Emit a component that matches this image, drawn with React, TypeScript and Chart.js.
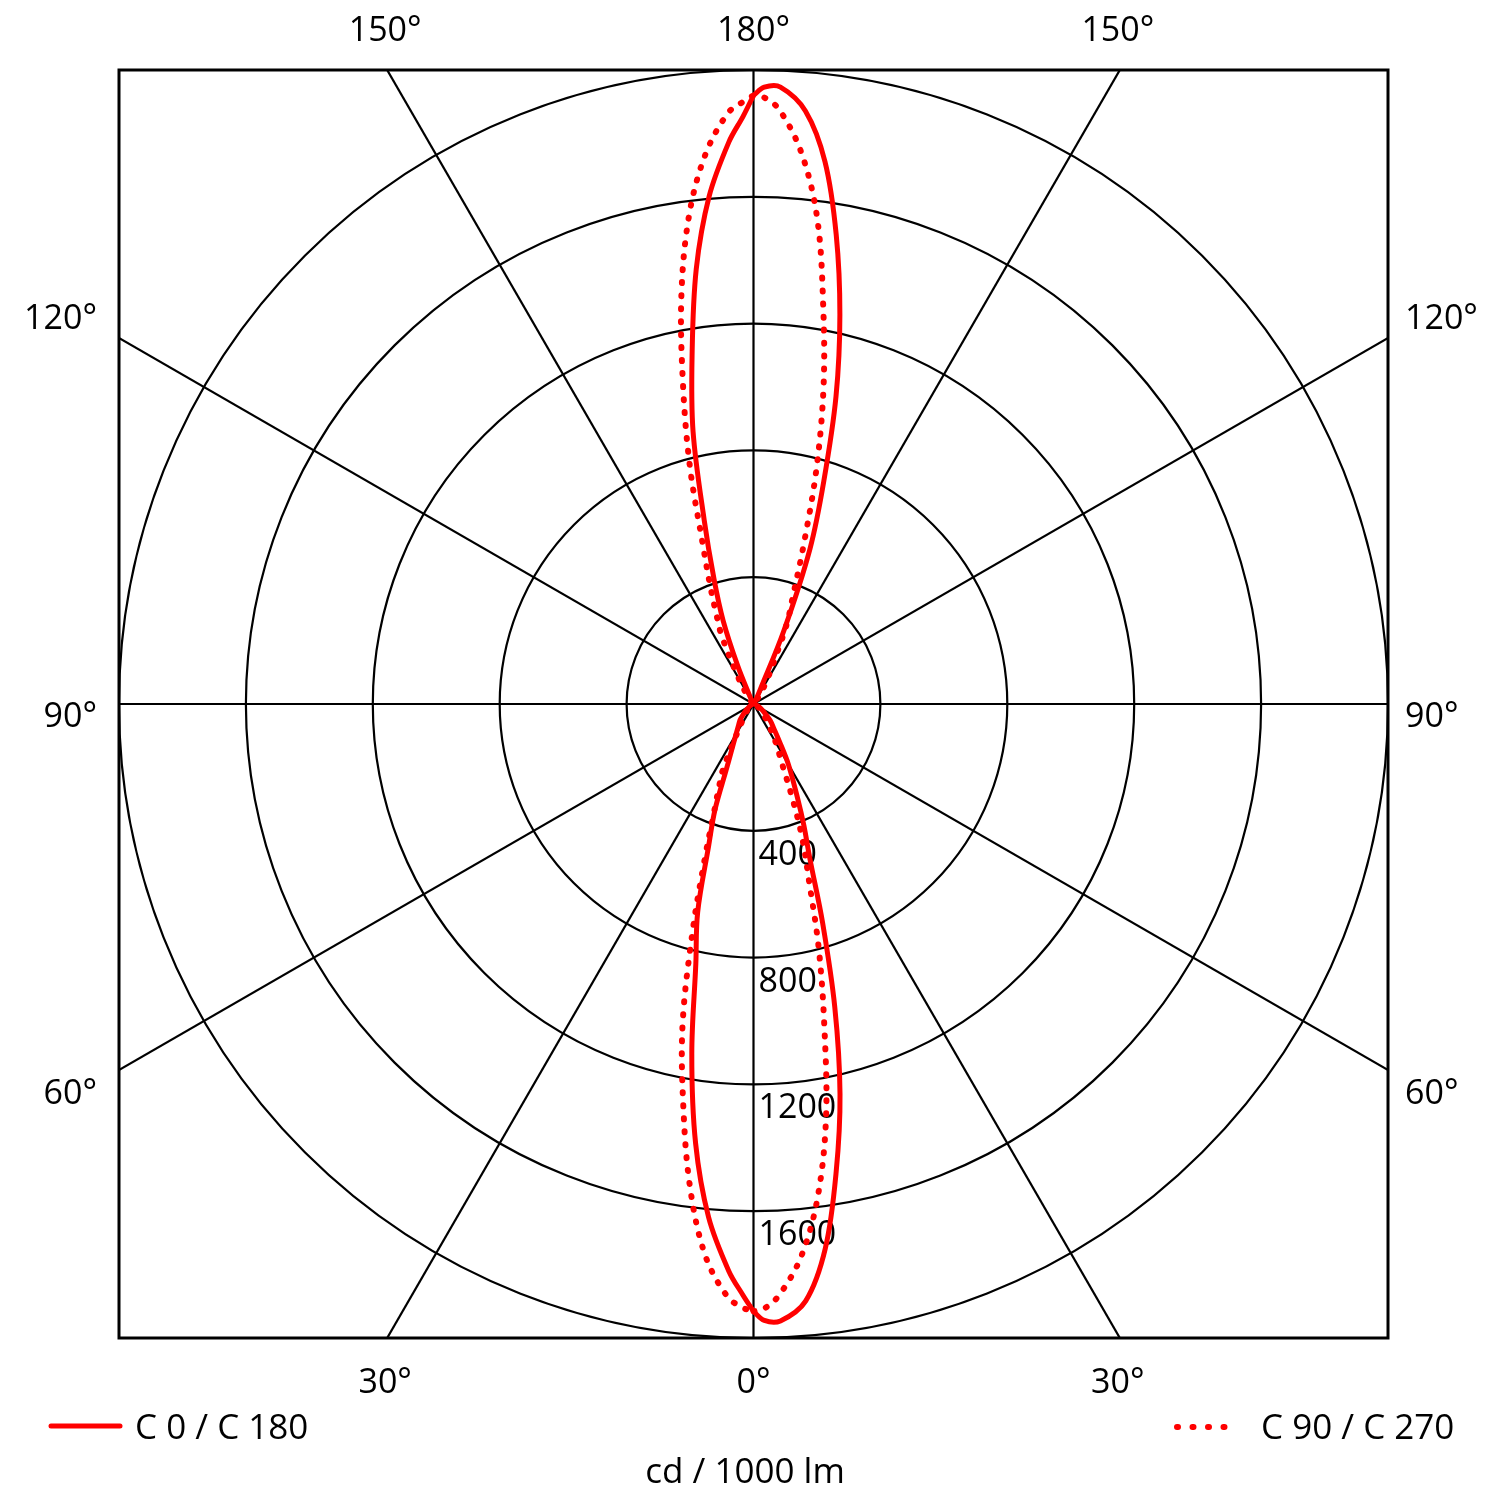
import { useEffect, useRef } from 'react';
import { Chart, registerables } from 'chart.js';

Chart.register(...registerables);

// gamma angles (0° = straight down, 180° = straight up)
const gammaDeg = [
  0, 1, 2.5, 5, 7.5, 10, 12.5, 15, 17.5, 20, 22.5, 25,
  30, 35, 40, 45, 50, 60, 70, 80, 90,
  100, 110, 120, 130, 140, 145, 150, 155,
  157.5, 160, 162.5, 165, 167.5, 170, 172.5, 175, 177.5, 179, 180,
];

// intensities in cd / 1000 lm for each half plane
const c0 = [
  1916, 1945, 1948, 1890, 1733, 1500, 1260, 990, 725, 520, 415, 330,
  220, 140, 98, 75, 50, 25, 10, 4, 0,
  0, 0, 0, 2, 5, 8, 15, 50,
  250, 520, 737, 1005, 1258, 1502, 1726, 1878, 1948, 1946, 1920,
];
const c180 = [
  1916, 1866, 1790, 1625, 1398, 1120, 840, 680, 471, 355, 225, 166,
  110, 82, 66, 45, 30, 14, 6, 2, 0,
  0, 0, 0, 0, 2, 5, 8, 30,
  130, 280, 415, 600, 880, 1115, 1383, 1607, 1775, 1855, 1920,
];
const c90 = [
  1916, 1908, 1866, 1745, 1561, 1318, 1029, 792, 579, 448, 317, 222,
  140, 90, 60, 40, 28, 14, 6, 2, 0,
  0, 0, 0, 2, 10, 30, 80, 170,
  276, 365, 525, 765, 1019, 1267, 1542, 1743, 1876, 1914, 1920,
];
const c270 = [
  1916, 1905, 1872, 1746, 1535, 1277, 1032, 741, 510, 365, 285, 227,
  95, 55, 38, 28, 20, 10, 4, 1, 0,
  0, 0, 0, 2, 15, 40, 95, 237,
  306, 402, 536, 774, 1025, 1309, 1555, 1740, 1865, 1900, 1920,
];

const ringValues = [400, 800, 1200, 1600, 2000];
const ringLabels = ['400', '800', '1200', '1600'];
const spokeAngles = [0, 30, 60, 90, 120, 150];
const maxValue = 2000;

const FONT = "'Open Sans', 'Noto Sans', sans-serif";
const RED = '#ff0000';

// right half plane goes 0 -> 180, left half plane comes back 180 -> 0
function planeLoop(right: number[], left: number[]) {
  const pts: { x: number; y: number }[] = [];
  gammaDeg.forEach((g, i) => {
    const a = (g * Math.PI) / 180;
    pts.push({ x: right[i] * Math.sin(a), y: -right[i] * Math.cos(a) });
  });
  for (let i = gammaDeg.length - 1; i >= 0; i--) {
    const a = (gammaDeg[i] * Math.PI) / 180;
    pts.push({ x: -left[i] * Math.sin(a), y: -left[i] * Math.cos(a) });
  }
  return pts;
}

const polarGrid = {
  id: 'polarGrid',
  beforeDatasetsDraw(chart: any) {
    const { ctx, chartArea, scales } = chart;
    const xs = scales.x;
    const ys = scales.y;
    const cx = xs.getPixelForValue(0);
    const cy = ys.getPixelForValue(0);

    ctx.save();
    ctx.beginPath();
    ctx.rect(chartArea.left, chartArea.top, chartArea.width, chartArea.height);
    ctx.clip();
    ctx.strokeStyle = '#000';
    ctx.lineWidth = 2.2;

    ringValues.forEach((v) => {
      const rx = xs.getPixelForValue(v) - cx;
      const ry = cy - ys.getPixelForValue(v);
      ctx.beginPath();
      ctx.ellipse(cx, cy, rx, ry, 0, 0, Math.PI * 2);
      ctx.stroke();
    });

    spokeAngles.forEach((g) => {
      const a = (g * Math.PI) / 180;
      const far = maxValue * 3;
      ctx.beginPath();
      ctx.moveTo(xs.getPixelForValue(far * Math.sin(a)), ys.getPixelForValue(-far * Math.cos(a)));
      ctx.lineTo(xs.getPixelForValue(-far * Math.sin(a)), ys.getPixelForValue(far * Math.cos(a)));
      ctx.stroke();
    });
    ctx.restore();

    // frame
    ctx.save();
    ctx.strokeStyle = '#000';
    ctx.lineWidth = 3;
    ctx.strokeRect(chartArea.left, chartArea.top, chartArea.width, chartArea.height);

    // ring values along the 0° spoke
    ctx.fillStyle = '#000';
    ctx.font = `34px ${FONT}`;
    ctx.textAlign = 'left';
    ctx.textBaseline = 'alphabetic';
    ringLabels.forEach((t, i) => {
      const py = ys.getPixelForValue(-ringValues[i]);
      ctx.fillText(t, cx + 5, py + 34);
    });
    ctx.restore();
  },
  afterDraw(chart: any) {
    const { ctx, chartArea, scales } = chart;
    const xs = scales.x;
    const cx = xs.getPixelForValue(0);
    const edgeX = xs.getPixelForValue(maxValue * Math.tan(Math.PI / 6)) - cx;

    ctx.save();
    ctx.fillStyle = '#000';
    ctx.font = `34px ${FONT}`;
    ctx.textBaseline = 'alphabetic';

    // top and bottom angle labels
    ctx.textAlign = 'center';
    const topY = chartArea.top - 29;
    const botY = chartArea.bottom + 55;
    ctx.fillText('150°', cx - edgeX - 2, topY);
    ctx.fillText('180°', cx, topY);
    ctx.fillText('150°', cx + edgeX - 2, topY);
    ctx.fillText('30°', cx - edgeX - 2, botY);
    ctx.fillText('0°', cx, botY);
    ctx.fillText('30°', cx + edgeX - 2, botY);

    // side angle labels
    const sideLabels = [
      { t: '120°', y: 329 },
      { t: '90°', y: 727 },
      { t: '60°', y: 1104 },
    ];
    sideLabels.forEach((s) => {
      ctx.textAlign = 'right';
      ctx.fillText(s.t, chartArea.left - 22, s.y);
      ctx.textAlign = 'left';
      ctx.fillText(s.t, chartArea.right + 17, s.y);
    });

    // legend
    ctx.strokeStyle = RED;
    ctx.lineCap = 'round';
    ctx.lineWidth = 5;
    ctx.beginPath();
    ctx.moveTo(51, 1426);
    ctx.lineTo(120, 1426);
    ctx.stroke();

    ctx.lineWidth = 6;
    ctx.setLineDash([1, 14.5]);
    ctx.beginPath();
    ctx.moveTo(1177, 1427);
    ctx.lineTo(1239, 1427);
    ctx.stroke();
    ctx.setLineDash([]);

    ctx.font = `35px ${FONT}`;
    ctx.textAlign = 'left';
    ctx.fillText('C 0 / C 180', 135, 1439);
    ctx.fillText('C 90 / C 270', 1261, 1439);

    ctx.font = `35px ${FONT}`;
    ctx.textAlign = 'center';
    ctx.fillText('cd / 1000 lm', 745, 1483);
    ctx.restore();
  },
};

export default function App() {
  const canvasRef = useRef<HTMLCanvasElement>(null);

  useEffect(() => {
    const ctx = canvasRef.current?.getContext('2d');
    if (!ctx) return;
    const chart = new Chart(ctx, {
      type: 'scatter',
      data: {
        datasets: [
          {
            label: 'C 0 / C 180',
            data: planeLoop(c0, c180),
            showLine: true,
            borderColor: RED,
            borderWidth: 5,
            borderCapStyle: 'round',
            borderJoinStyle: 'round',
            pointRadius: 0,
            tension: 0.35,
          },
          {
            label: 'C 90 / C 270',
            data: planeLoop(c90, c270),
            showLine: true,
            borderColor: RED,
            borderWidth: 6,
            borderDash: [1, 12],
            borderCapStyle: 'round',
            borderJoinStyle: 'round',
            pointRadius: 0,
            tension: 0.35,
          },
        ],
      },
      options: {
        animation: false,
        responsive: true,
        maintainAspectRatio: false,
        layout: { padding: { left: 119, right: 112, top: 70, bottom: 162 } },
        scales: {
          x: { type: 'linear', min: -maxValue, max: maxValue, display: false },
          y: { type: 'linear', min: -maxValue, max: maxValue, display: false },
        },
        plugins: {
          legend: { display: false },
          tooltip: { enabled: false },
        },
      },
      plugins: [polarGrid],
    });
    return () => chart.destroy();
  }, []);

  return (
    <div style={{ position: 'absolute', left: 0, top: 0, width: 1500, height: 1500, background: '#fff' }}>
      <canvas ref={canvasRef} />
    </div>
  );
}
